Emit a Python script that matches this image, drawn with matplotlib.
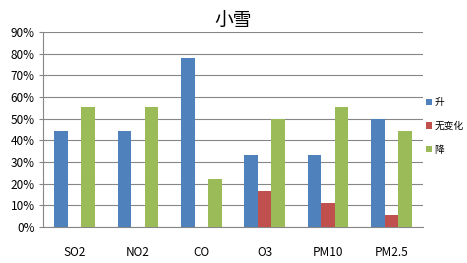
import matplotlib.pyplot as plt
import numpy as np

plt.rcParams['font.family'] = ['Noto Sans CJK SC', 'DejaVu Sans']

categories = ['SO2', 'NO2', 'CO', 'O3', 'PM10', 'PM2.5']
series_names = ['升', '无变化', '降']
rise = [44.4, 44.4, 77.8, 33.3, 33.3, 50.0]
same = [0, 0, 0, 16.7, 11.1, 5.6]
fall = [55.6, 55.6, 22.2, 50.0, 55.6, 44.4]
colors = ['#4F81BD', '#C0504D', '#9BBB59']

fig = plt.figure(figsize=(4.67, 2.63), dpi=100)
ax = fig.add_axes([43 / 467, 1 - 227 / 263, 380 / 467, 195 / 263])

x = np.arange(len(categories))
w = 0.215
for i, (vals, name, c) in enumerate(zip([rise, same, fall], series_names, colors)):
    ax.bar(x + (i - 1) * w, vals, w, color=c, label=name, zorder=3)

ax.set_xlim(-0.5, len(categories) - 0.5)
ax.set_ylim(0, 90)
ax.set_yticks(range(0, 91, 10))
ax.set_yticklabels([f'{v}%' for v in range(0, 91, 10)], fontsize=8.5)
ax.set_xticks(x)
ax.set_xticklabels(categories, fontsize=8.5)
ax.tick_params(axis='x', length=0, pad=14)
ax.tick_params(axis='y', length=3, color='#868686', pad=3)
ax.grid(axis='y', color='#868686', linewidth=0.8, zorder=0)
for s in ['top', 'right']:
    ax.spines[s].set_visible(False)
for s in ['left', 'bottom']:
    ax.spines[s].set_color('#868686')
    ax.spines[s].set_linewidth(0.8)

ax.set_title('小雪', fontsize=13.5, pad=3)
ax.legend(loc='upper left', bbox_to_anchor=(1.0, 0.68), frameon=False,
          fontsize=7, handlelength=0.6, handleheight=0.6, handletextpad=0.3,
          labelspacing=1.4, borderaxespad=0.1, borderpad=0.2)

fig.savefig('out.png', dpi=100)
